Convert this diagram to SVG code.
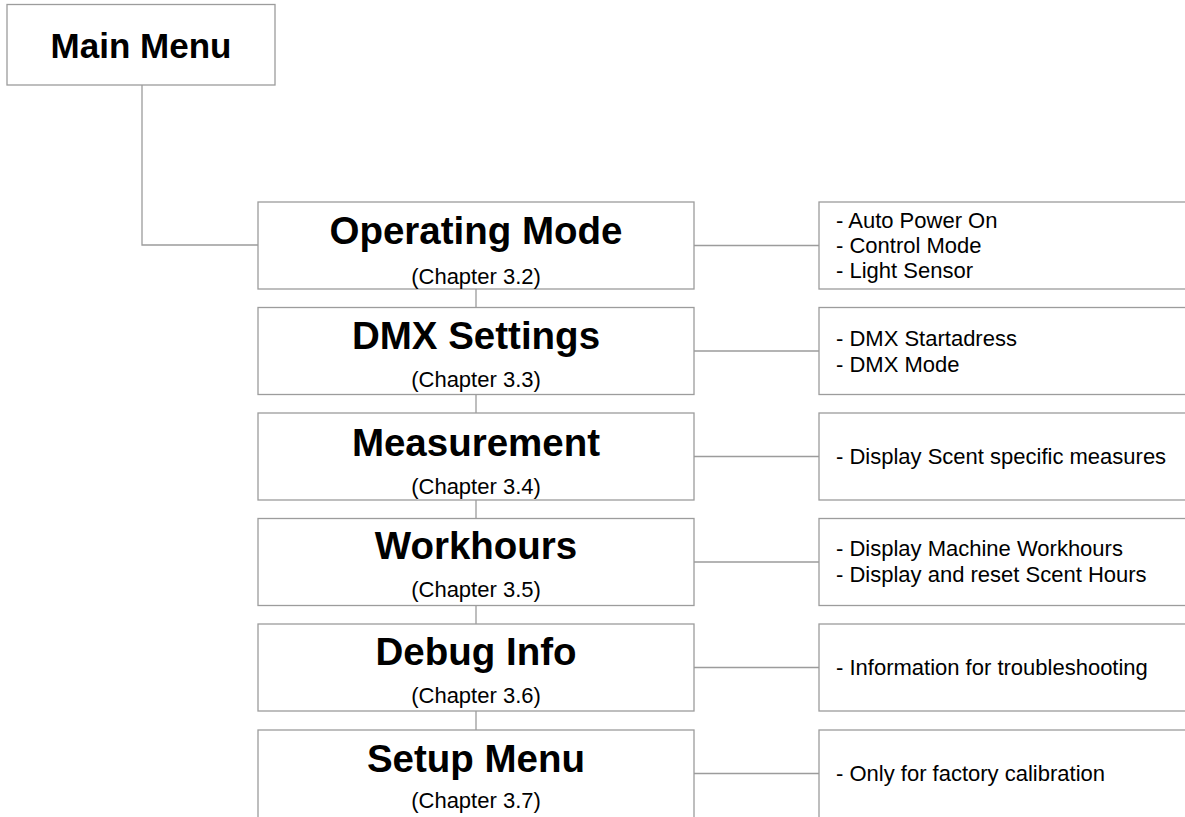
<svg xmlns="http://www.w3.org/2000/svg" width="1185" height="817" viewBox="0 0 1185 817">
<style>
.box{fill:#fff;stroke:#9c9c9c;stroke-width:1.3}
.ln{fill:none;stroke:#9c9c9c;stroke-width:1.3}
.h{font-family:"Liberation Sans",Arial,sans-serif;font-weight:bold;font-size:38.5px;fill:#000;text-anchor:middle}
.mm{font-family:"Liberation Sans",Arial,sans-serif;font-weight:bold;font-size:35px;fill:#000;text-anchor:middle}
.c{font-family:"Liberation Sans",Arial,sans-serif;font-size:22px;fill:#000;text-anchor:middle}
.t{font-family:"Liberation Sans",Arial,sans-serif;font-size:22px;fill:#000}
</style>
<rect width="1185" height="817" fill="#fff"/>
<g id="connectors">
<path class="ln" d="M142,85 V245 H258"/>
<path class="ln" d="M476,289 V307.5 M476,394.5 V413 M476,500 V518.5 M476,605.5 V624 M476,711 V730"/>
<path class="ln" d="M694,245.5 H819 M694,351 H819 M694,456.5 H819 M694,562 H819 M694,667.5 H819 M694,773.5 H819"/>
</g>
<g id="main-menu">
<rect class="box" x="7" y="4.5" width="268" height="80.5"/>
<text class="mm" x="141" y="57.5">Main Menu</text>
</g>
<g id="operating-mode">
<rect class="box" x="258" y="202" width="436" height="87"/>
<text class="h" x="476" y="243.5">Operating Mode</text>
<text class="c" x="476" y="283.5">(Chapter 3.2)</text>
</g>
<g id="operating-mode-items">
<rect class="box" x="819" y="202" width="400" height="87"/>
<text class="t" x="836" y="227.7">- Auto Power On</text>
<text class="t" x="836" y="252.9">- Control Mode</text>
<text class="t" x="836" y="278.1">- Light Sensor</text>
</g>
<g id="dmx-settings">
<rect class="box" x="258" y="307.5" width="436" height="87"/>
<text class="h" x="476" y="348.5">DMX Settings</text>
<text class="c" x="476" y="387">(Chapter 3.3)</text>
</g>
<g id="dmx-settings-items">
<rect class="box" x="819" y="307.5" width="400" height="87"/>
<text class="t" x="836" y="345.8">- DMX Startadress</text>
<text class="t" x="836" y="371.6">- DMX Mode</text>
</g>
<g id="measurement">
<rect class="box" x="258" y="413" width="436" height="87"/>
<text class="h" x="476" y="455.5">Measurement</text>
<text class="c" x="476" y="493.5">(Chapter 3.4)</text>
</g>
<g id="measurement-items">
<rect class="box" x="819" y="413" width="400" height="87"/>
<text class="t" x="836" y="464">- Display Scent specific measures</text>
</g>
<g id="workhours">
<rect class="box" x="258" y="518.5" width="436" height="87"/>
<text class="h" x="476" y="559">Workhours</text>
<text class="c" x="476" y="596.5">(Chapter 3.5)</text>
</g>
<g id="workhours-items">
<rect class="box" x="819" y="518.5" width="400" height="87"/>
<text class="t" x="836" y="556">- Display Machine Workhours</text>
<text class="t" x="836" y="581.8">- Display and reset Scent Hours</text>
</g>
<g id="debug-info">
<rect class="box" x="258" y="624" width="436" height="87"/>
<text class="h" x="476" y="665">Debug Info</text>
<text class="c" x="476" y="702.5">(Chapter 3.6)</text>
</g>
<g id="debug-info-items">
<rect class="box" x="819" y="624" width="400" height="87"/>
<text class="t" x="836" y="675">- Information for troubleshooting</text>
</g>
<g id="setup-menu">
<rect class="box" x="258" y="730" width="436" height="95"/>
<text class="h" x="476" y="771.5">Setup Menu</text>
<text class="c" x="476" y="808">(Chapter 3.7)</text>
</g>
<g id="setup-menu-items">
<rect class="box" x="819" y="730" width="400" height="95"/>
<text class="t" x="836" y="781">- Only for factory calibration</text>
</g>
</svg>
